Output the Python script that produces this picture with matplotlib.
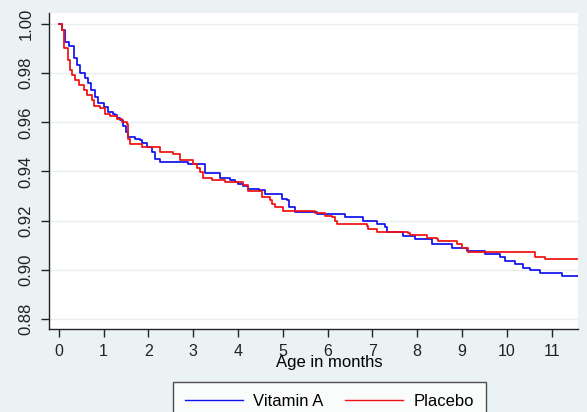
import matplotlib
matplotlib.use("Agg")
import matplotlib.pyplot as plt
from matplotlib.lines import Line2D

# Kaplan-Meier estimates: time of each drop (months)
# and survival after the drop
vita_t = [0.0, 0.08, 0.14, 0.23, 0.33, 0.40, 0.48, 0.59, 0.66, 0.72, 0.81, 0.88,
          1.00, 1.11, 1.22, 1.26, 1.31, 1.37, 1.43, 1.50, 1.55, 1.70, 1.81, 1.85,
          1.96, 2.08, 2.15, 2.26, 2.89, 3.27, 3.60, 3.82, 3.94, 4.01, 4.12, 4.23,
          4.46, 4.60, 4.98, 5.09, 5.13, 5.27, 5.76, 6.39, 6.79, 7.10, 7.28, 7.32,
          7.69, 7.95, 8.33, 8.77, 9.11, 9.52, 9.85, 9.96, 10.18, 10.37, 10.52,
          10.74, 11.23]
vita_s = [1.000, 0.9977, 0.9929, 0.9909, 0.9861, 0.9834, 0.9800, 0.9780, 0.9759,
          0.9732, 0.9705, 0.9678, 0.9664, 0.9642, 0.9636, 0.9629, 0.9619, 0.9608,
          0.9584, 0.9560, 0.9541, 0.9533, 0.9527, 0.9516, 0.9499, 0.9479, 0.9452,
          0.9438, 0.9431, 0.9393, 0.9374, 0.9366, 0.9356, 0.9350, 0.9339, 0.9329,
          0.9325, 0.9309, 0.9289, 0.9282, 0.9254, 0.9234, 0.9227, 0.9213, 0.9197,
          0.9187, 0.9176, 0.9152, 0.9136, 0.9125, 0.9105, 0.9089, 0.9075, 0.9064,
          0.9050, 0.9034, 0.9023, 0.9009, 0.9000, 0.8985, 0.8973]

plac_t = [0.0, 0.07, 0.125, 0.20, 0.25, 0.30, 0.36, 0.45, 0.57, 0.625, 0.74, 0.79,
          0.92, 1.03, 1.15, 1.29, 1.41, 1.53, 1.555, 1.59, 1.85, 2.26, 2.56, 2.71,
          3.00, 3.08, 3.15, 3.23, 3.42, 3.72, 4.12, 4.23, 4.53, 4.72, 4.75, 4.83,
          5.01, 5.72, 5.94, 6.09, 6.17, 6.21, 6.88, 6.91, 7.10, 7.80, 7.84, 8.21,
          8.44, 8.47, 8.88, 9.00, 9.14, 10.63, 10.85]
plac_s = [1.000, 0.9977, 0.9902, 0.9854, 0.9813, 0.9793, 0.9773, 0.9752, 0.9732,
          0.9711, 0.9691, 0.9668, 0.9657, 0.9636, 0.9627, 0.9615, 0.9601, 0.9595,
          0.9533, 0.9513, 0.9499, 0.9479, 0.9472, 0.9445, 0.9431, 0.9415, 0.9397,
          0.9374, 0.9366, 0.9357, 0.9343, 0.9322, 0.9295, 0.9282, 0.9268, 0.9254,
          0.9241, 0.9230, 0.9218, 0.9213, 0.9197, 0.9187, 0.9180, 0.9166, 0.9152,
          0.9148, 0.9143, 0.9129, 0.9125, 0.9118, 0.9105, 0.9089, 0.9073, 0.9053,
          0.9044]

end_time = 11.59
x_ticks = list(range(0, 12))
y_ticks = [0.88, 0.90, 0.92, 0.94, 0.96, 0.98, 1.00]
series = ["Vitamin A", "Placebo"]

bg = "#EAF2F3"
blue = "#1010F0"
red = "#F01010"
plt.rcParams["font.family"] = ["Liberation Sans", "DejaVu Sans"]

fig = plt.figure(figsize=(5.87, 4.12), dpi=100, facecolor=bg)
ax = fig.add_axes([49 / 587, 1 - 329 / 412, 529 / 587, 316 / 412])
ax.set_facecolor("white")

ax.step(vita_t + [end_time], vita_s + [vita_s[-1]], where="post",
        color=blue, lw=1.25, zorder=3)
ax.step(plac_t + [end_time], plac_s + [plac_s[-1]], where="post",
        color=red, lw=1.25, zorder=4)

ax.set_xlim(-0.217, end_time)
ax.set_ylim(0.8759, 1.0045)
ax.set_xticks(x_ticks)
ax.set_yticks(y_ticks)
ax.set_yticklabels([f"{v:.2f}" for v in y_ticks], rotation=90, va="center")
ax.tick_params(axis="both", direction="out", length=6, width=1, colors="#222222",
               pad=5)
ax.tick_params(axis="x", labelsize=11.5)
ax.tick_params(axis="y", labelsize=12)
ax.grid(axis="y", color="#E6EEF0", lw=1)
ax.set_axisbelow(True)

for side in ["top", "right"]:
    ax.spines[side].set_visible(False)
for side in ["left", "bottom"]:
    ax.spines[side].set_color("#222222")
    ax.spines[side].set_linewidth(1)

# axis title sits over the tick labels, as in the original
fig.text(329 / 587, 1 - 362 / 412, "Age in months", ha="center", va="center",
         fontsize=12)

handles = [Line2D([], [], color=blue, lw=1), Line2D([], [], color=red, lw=1)]
leg = fig.legend(handles, series, loc="upper left", ncol=2,
                 bbox_to_anchor=(173 / 587, 1 - 382 / 412), fontsize=12,
                 frameon=True, fancybox=False, handlelength=3.5, handletextpad=0.6,
                 columnspacing=1.3, borderpad=0.7, borderaxespad=0)
leg.get_frame().set_edgecolor("#222222")
leg.get_frame().set_linewidth(1)
leg.get_frame().set_facecolor("white")

fig.savefig("out.png", dpi=100, facecolor=bg)
